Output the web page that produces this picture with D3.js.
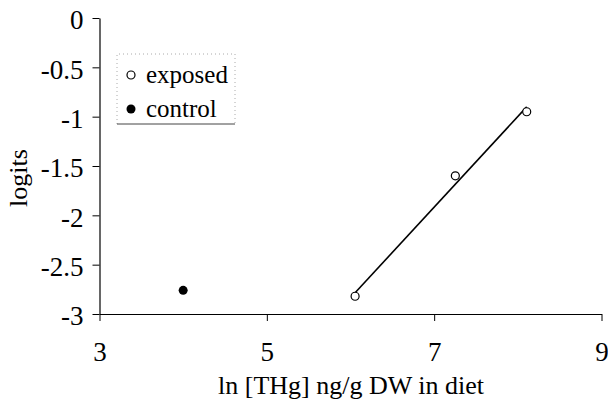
<!DOCTYPE html>
<html>
<head>
<meta charset="utf-8">
<script src="https://cdn.jsdelivr.net/npm/d3@7"></script>
<style>
  html, body { margin: 0; padding: 0; background: #fff; }
  svg { display: block; }
  text { font-family: "Liberation Serif", "Times New Roman", serif; fill: #000; }
</style>
</head>
<body>
<svg id="chart" width="608" height="411"></svg>
<script>
// Exposed groups: ln of dietary THg vs. logits
const exposedX = [6.055, 7.253, 8.106];
const exposedY = [-2.82, -1.60, -0.95];
// Control group
const controlX = [4.0];
const controlY = [-2.76];

const xTicks = [3, 5, 7, 9];
const yTicks = [0, -0.5, -1, -1.5, -2, -2.5, -3];
const legendLabels = ["exposed", "control"];

const serif = '"Liberation Serif", "Times New Roman", serif';
const svg = d3.select("#chart");

const x = d3.scaleLinear().domain([3, 9]).range([99.5, 601.5]);
const y = d3.scaleLinear().domain([-3, 0]).range([314, 18]);

// Axes
const xAxis = d3.axisBottom(x).tickValues(xTicks).tickSize(7).tickSizeOuter(0).tickFormat(d3.format("d"));
const gx = svg.append("g").attr("transform", `translate(0,${y(-3)})`).call(xAxis)
  .attr("font-family", serif).attr("font-size", 27);
gx.select(".domain").attr("stroke", "#000").attr("stroke-width", 1.2);
gx.selectAll(".tick line").attr("stroke", "#000");
gx.selectAll(".tick text")
  .style("font-family", serif).style("font-size", "27px")
  .attr("y", 47).attr("dy", 0);

const yAxis = d3.axisLeft(y).tickValues(yTicks).tickSize(7).tickSizeOuter(0)
  .tickFormat(d => String(d));
const gy = svg.append("g").attr("transform", `translate(${x(3)},0)`).call(yAxis)
  .attr("font-family", serif).attr("font-size", 27);
gy.select(".domain").attr("stroke", "#000").attr("stroke-width", 1.2);
gy.selectAll(".tick line").attr("stroke", "#000");
gy.selectAll(".tick text")
  .style("font-family", serif).style("font-size", "27px")
  .attr("x", -16).attr("dy", "0.40em");

// Axis titles
svg.append("text")
  .attr("x", 351).attr("y", 394)
  .attr("text-anchor", "middle").style("font-size", "26px")
  .text("ln [THg] ng/g DW in diet");

svg.append("text")
  .attr("transform", "translate(27,178) rotate(-90)")
  .attr("text-anchor", "middle").style("font-size", "26px")
  .text("logits");

// Least-squares fit through the exposed points
const mx = d3.mean(exposedX), my = d3.mean(exposedY);
const sxy = d3.sum(exposedX, (v, i) => (v - mx) * (exposedY[i] - my));
const sxx = d3.sum(exposedX, v => (v - mx) ** 2);
const slope = sxy / sxx, intercept = my - slope * mx;
const x0 = d3.min(exposedX), x1 = d3.max(exposedX);
svg.append("line")
  .attr("x1", x(x0)).attr("y1", y(intercept + slope * x0))
  .attr("x2", x(x1)).attr("y2", y(intercept + slope * x1))
  .attr("stroke", "#000").attr("stroke-width", 1.6);

// Points
svg.selectAll("circle.exposed")
  .data(exposedX.map((v, i) => [v, exposedY[i]]))
  .join("circle").attr("class", "exposed")
  .attr("cx", d => x(d[0])).attr("cy", d => y(d[1])).attr("r", 4)
  .attr("fill", "#fff").attr("stroke", "#000").attr("stroke-width", 1.2);

svg.selectAll("circle.control")
  .data(controlX.map((v, i) => [v, controlY[i]]))
  .join("circle").attr("class", "control")
  .attr("cx", d => x(d[0])).attr("cy", d => y(d[1])).attr("r", 4.5)
  .attr("fill", "#000");

// Legend
const lg = svg.append("g");
lg.append("path").attr("d", "M117,124 L117,54 L235,54 L235,124")
  .attr("fill", "none").attr("stroke", "#aaa").attr("stroke-dasharray", "1,3");
lg.append("line").attr("x1", 117).attr("y1", 124).attr("x2", 235).attr("y2", 124)
  .attr("stroke", "#444").attr("stroke-width", 1);
legendLabels.forEach((lab, i) => {
  const cy = 75 + i * 34;
  lg.append("circle").attr("cx", 131).attr("cy", cy).attr("r", i === 0 ? 4 : 4.5)
    .attr("fill", i === 0 ? "#fff" : "#000").attr("stroke", "#000").attr("stroke-width", i === 0 ? 1.2 : 0);
  lg.append("text").attr("x", 146).attr("y", cy + 8).style("font-size", "25px").text(lab);
});
</script>
</body>
</html>
